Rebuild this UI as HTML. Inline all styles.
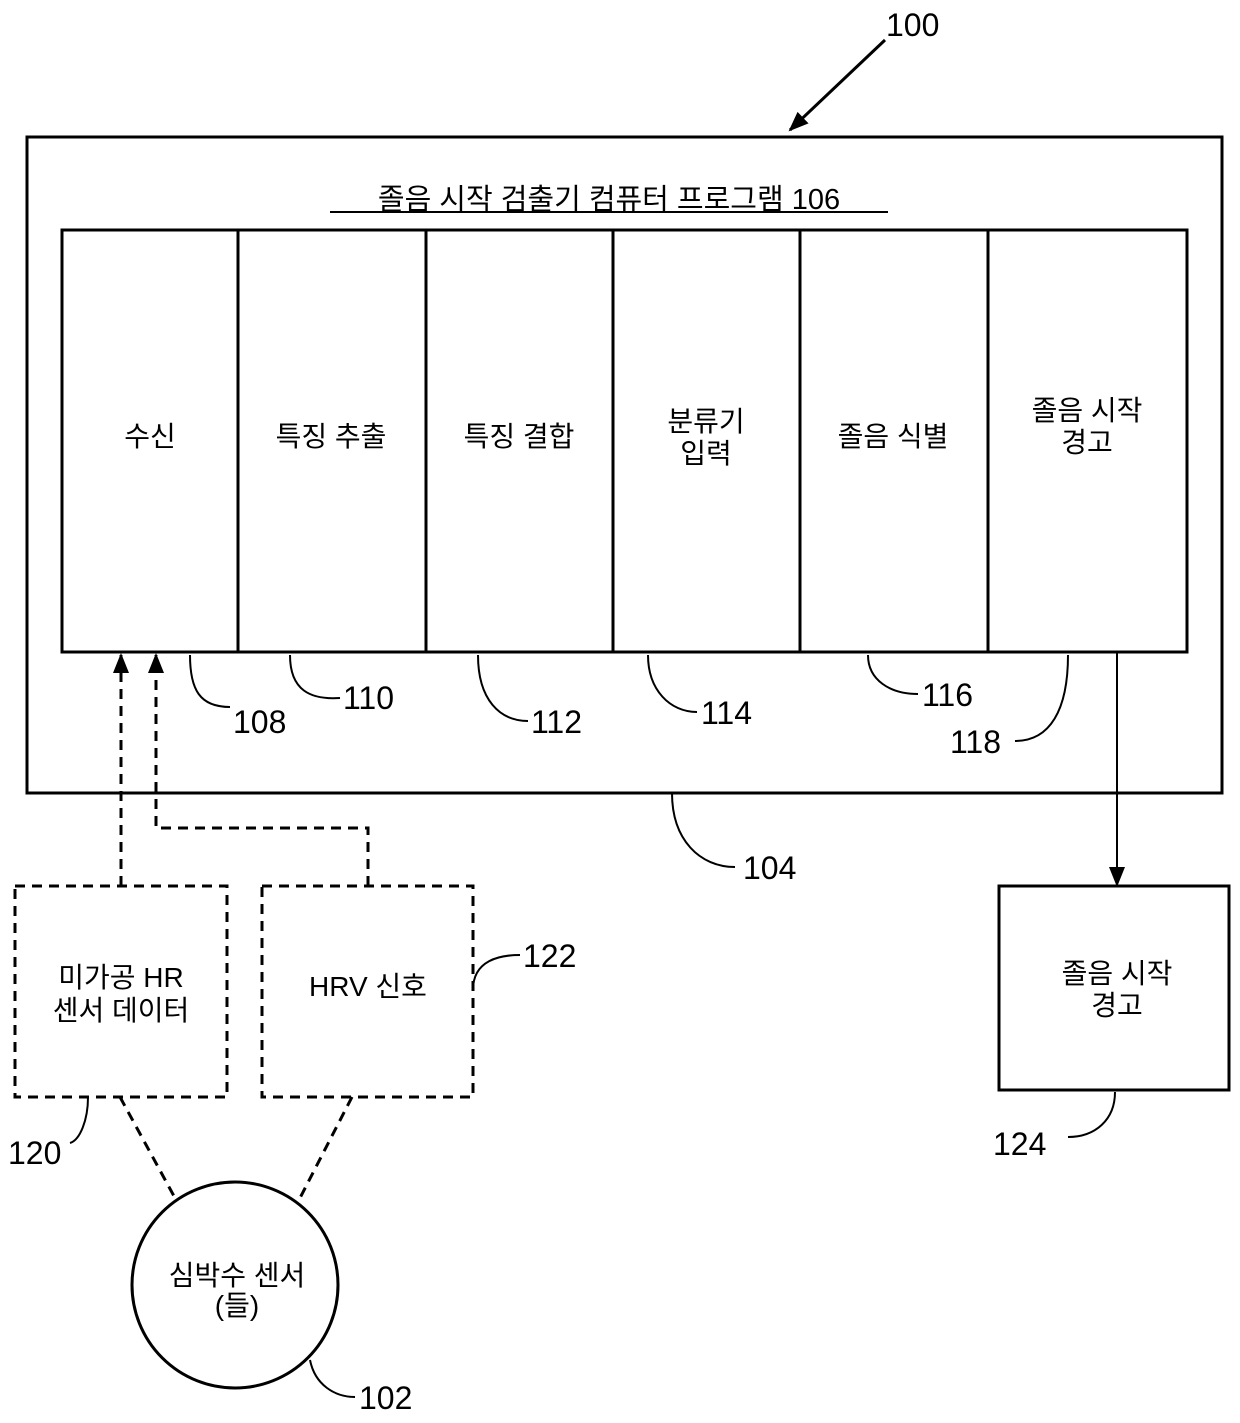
<!DOCTYPE html>
<html><head><meta charset="utf-8"><style>
html,body{margin:0;padding:0;background:#fff}
svg{display:block}
text{font-family:"Liberation Sans","Noto Sans CJK KR",sans-serif;fill:#000}
.k{font-size:28px;text-anchor:middle}
.n{font-size:32px}
</style></head><body>
<svg width="1240" height="1423" viewBox="0 0 1240 1423" xmlns="http://www.w3.org/2000/svg">
<defs>
<marker id="ah" markerWidth="10" markerHeight="10" refX="9" refY="5" orient="auto" markerUnits="userSpaceOnUse" viewBox="0 0 10 10">
<path d="M0,0 L10,5 L0,10 z" fill="#000"/></marker>
<marker id="ah2" markerWidth="20" markerHeight="20" refX="18" refY="10" orient="auto" markerUnits="userSpaceOnUse" viewBox="0 0 20 20">
<path d="M0,2 L20,10 L0,18 z" fill="#000"/></marker>
</defs>
<g fill="none" stroke="#000" stroke-width="3">
<rect x="27" y="137" width="1195" height="656"/>
<rect x="62" y="230" width="1125" height="422"/>
<line x1="238" y1="230" x2="238" y2="652"/>
<line x1="426" y1="230" x2="426" y2="652"/>
<line x1="613" y1="230" x2="613" y2="652"/>
<line x1="800" y1="230" x2="800" y2="652"/>
<line x1="988" y1="230" x2="988" y2="652"/>
<line x1="330" y1="212" x2="888" y2="212" stroke-width="2"/>
<line x1="885" y1="40" x2="790" y2="130" marker-end="url(#ah2)"/>
<line x1="1117" y1="652" x2="1117" y2="885" stroke-width="2" marker-end="url(#ah2)"/>
<rect x="999" y="886" width="230" height="204"/>
<g stroke-dasharray="10,7">
<rect x="15" y="886" width="212" height="211"/>
<rect x="262" y="886" width="211" height="211"/>
<line x1="121" y1="886" x2="121" y2="655" marker-end="url(#ah2)"/>
<polyline points="368,886 368,828 156,828 156,655" marker-end="url(#ah2)"/>
<line x1="120" y1="1097" x2="175" y2="1198"/>
<line x1="352" y1="1097" x2="300" y2="1198"/>
</g>
<circle cx="235" cy="1285" r="103"/>
<g stroke-width="2">
<path d="M190,655 C190,690 200,707 230,707"/>
<path d="M290,655 C290,690 310,700 340,698"/>
<path d="M478,655 C478,700 500,721 528,721"/>
<path d="M648,655 C648,690 670,712 697,712"/>
<path d="M868,655 C868,680 890,694 918,694"/>
<path d="M1068,655 C1068,710 1050,741 1015,741"/>
<path d="M672,793 C672,840 700,867 735,867"/>
<path d="M88,1097 C88,1120 80,1140 70,1143"/>
<path d="M473,990 C473,960 500,955 520,955"/>
<path d="M1115,1092 C1115,1120 1095,1137 1068,1137"/>
<path d="M310,1360 C315,1385 335,1397 355,1397"/>
</g>
</g>
<text x="609" y="209" style="font-size:29px;text-anchor:middle">졸음 시작 검출기 컴퓨터 프로그램 106</text>
<text class="k" x="150" y="446">수신</text>
<text class="k" x="331" y="446">특징 추출</text>
<text class="k" x="519" y="446">특징 결합</text>
<text class="k" x="706" y="431">분류기</text>
<text class="k" x="706" y="463">입력</text>
<text class="k" x="893" y="446">졸음 식별</text>
<text class="k" x="1087" y="420">졸음 시작</text>
<text class="k" x="1087" y="452">경고</text>
<text class="k" x="1117" y="983">졸음 시작</text>
<text class="k" x="1117" y="1015">경고</text>
<text class="k" x="121" y="987">미가공 HR</text>
<text class="k" x="121" y="1020">센서 데이터</text>
<text class="k" x="368" y="996">HRV 신호</text>
<text class="k" x="237" y="1285">심박수 센서</text>
<text class="k" x="237" y="1315">(들)</text>
<text class="n" x="233" y="733">108</text>
<text class="n" x="343" y="709">110</text>
<text class="n" x="531" y="733">112</text>
<text class="n" x="701" y="724">114</text>
<text class="n" x="922" y="706">116</text>
<text class="n" x="950" y="753">118</text>
<text class="n" x="743" y="879">104</text>
<text class="n" x="886" y="36">100</text>
<text class="n" x="523" y="967">122</text>
<text class="n" x="8" y="1164">120</text>
<text class="n" x="993" y="1155">124</text>
<text class="n" x="359" y="1409">102</text>
</svg>
</body></html>
